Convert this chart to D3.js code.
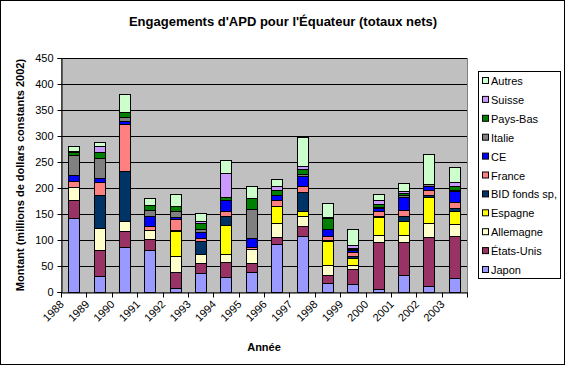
<!DOCTYPE html>
<html>
<head>
<meta charset="utf-8">
<title>Engagements d'APD pour l'Équateur</title>
<script type="text/javascript" src="https://cdn.jsdelivr.net/npm/d3@7/dist/d3.min.js"></script>
<style>
  body { margin: 0; background: #fff; }
  text { font-family: "Liberation Sans", Arial, sans-serif; fill: #000; }
</style>
</head>
<body>
<script type="text/javascript">
// années
var years = ['1988', '1989', '1990', '1991', '1992', '1993', '1994', '1995',
             '1996', '1997', '1998', '1999', '2000', '2001', '2002', '2003'];

// valeurs par donneur (millions de dollars constants 2002)
var japon     = [142, 30, 87, 80, 7, 36, 28, 39, 92, 108, 18, 15, 5, 33, 12, 26];
var etatsUnis = [34, 50, 31, 22, 31, 19, 30, 17, 14, 18, 15, 29, 92, 63, 94, 82];
var allemagne = [25, 44, 19, 17, 32, 19, 16, 26, 27, 21, 19, 8, 13, 14, 27, 22];
var espagne   = [0, 0, 0, 0, 48, 0, 55, 0, 33, 9, 47, 14, 34, 27, 49, 26];
var bid       = [0, 63, 96, 0, 2, 24, 18, 0, 0, 37, 1, 3, 3, 9, 5, 6];
var france    = [12, 24, 90, 8, 20, 5, 8, 5, 10, 11, 8, 7, 8, 12, 10, 11];
var ce        = [12, 9, 6, 19, 5, 13, 22, 16, 11, 20, 14, 4, 6, 24, 6, 22];
var italie    = [38, 37, 7, 12, 10, 6, 0, 56, 0, 2, 0, 2, 3, 4, 5, 2];
var paysBas   = [6, 13, 10, 9, 11, 10, 6, 21, 10, 11, 20, 3, 5, 5, 0, 6];
var suisse    = [3, 10, 0, 0, 0, 5, 46, 0, 6, 6, 3, 6, 7, 3, 0, 8];
var autres    = [9, 8, 35, 13, 22, 14, 24, 24, 15, 55, 27, 31, 12, 15, 57, 29];

var yTicks = [0, 50, 100, 150, 200, 250, 300, 350, 400, 450];

// ordre d'empilement, du bas vers le haut
var series = [
  {name: 'Japon', values: japon, color: '#9999ff'},
  {name: 'États-Unis', values: etatsUnis, color: '#993366'},
  {name: 'Allemagne', values: allemagne, color: '#ffffcc'},
  {name: 'Espagne', values: espagne, color: '#ffff00'},
  {name: 'BID fonds sp,', values: bid, color: '#003366'},
  {name: 'France', values: france, color: '#ff8080'},
  {name: 'CE', values: ce, color: '#0000ff'},
  {name: 'Italie', values: italie, color: '#808080'},
  {name: 'Pays-Bas', values: paysBas, color: '#008000'},
  {name: 'Suisse', values: suisse, color: '#cc99ff'},
  {name: 'Autres', values: autres, color: '#ccffcc'}
];

var W = 565, H = 365;
var plot = {left: 61, right: 467, top: 58, bottom: 292};

var svg = d3.select('body').append('svg')
    .attr('width', W)
    .attr('height', H);

svg.append('rect')
    .attr('x', 0.5).attr('y', 0.5)
    .attr('width', W - 1).attr('height', H - 1)
    .attr('fill', '#fff').attr('stroke', '#000');

var x = d3.scaleBand()
    .domain(years)
    .range([plot.left, plot.right]);

var y = d3.scaleLinear()
    .domain([0, 450])
    .range([plot.bottom, plot.top]);

// zone de tracé
svg.append('rect')
    .attr('x', plot.left + 0.5).attr('y', plot.top + 0.5)
    .attr('width', plot.right - plot.left).attr('height', plot.bottom - plot.top)
    .attr('fill', '#c0c0c0').attr('stroke', '#808080');

// quadrillage
svg.append('g').selectAll('line')
    .data(yTicks.slice(1))
    .enter().append('line')
    .attr('x1', plot.left).attr('x2', plot.right)
    .attr('y1', function(d) { return Math.round(y(d)) + 0.5; })
    .attr('y2', function(d) { return Math.round(y(d)) + 0.5; })
    .attr('stroke', '#000');

// empilement
var table = years.map(function(yr, i) {
  var row = {year: yr};
  series.forEach(function(s) { row[s.name] = s.values[i]; });
  return row;
});
var stack = d3.stack().keys(series.map(function(s) { return s.name; }));
var layers = stack(table);

var barW = 11;
svg.append('g').selectAll('g')
    .data(layers)
    .enter().append('g')
    .attr('fill', function(d, i) { return series[i].color; })
    .selectAll('rect')
    .data(function(d) { return d.filter(function(p) { return p[1] > p[0]; }); })
    .enter().append('rect')
    .attr('x', function(d) { return Math.round(x(d.data.year) + x.bandwidth() / 2 - barW / 2) + 0.5; })
    .attr('width', barW)
    .attr('y', function(d) { return Math.round(y(d[1])) + 0.5; })
    .attr('height', function(d) { return Math.round(y(d[0])) - Math.round(y(d[1])); })
    .attr('stroke', '#000')
    .attr('stroke-width', 1);

// axe Y
var yAxis = d3.axisLeft(y).tickValues(yTicks).tickSize(4).tickPadding(4);
var gy = svg.append('g')
    .attr('transform', 'translate(' + (plot.left + 0.5) + ',0)')
    .call(yAxis);
gy.select('.domain').attr('stroke', '#000');
gy.selectAll('.tick line').attr('stroke', '#000');
gy.selectAll('.tick text').style('font-size', '11px');

// axe X
var xAxis = d3.axisBottom(x).tickSize(0).tickFormat('');
var gx = svg.append('g')
    .attr('transform', 'translate(0,' + (plot.bottom + 0.5) + ')')
    .call(xAxis);
gx.select('.domain').attr('stroke', '#000');
gx.selectAll('line.sep')
    .data(years.concat(['end']))
    .enter().append('line')
    .attr('x1', function(d, i) { return Math.round(plot.left + i * x.step()) + 0.5; })
    .attr('x2', function(d, i) { return Math.round(plot.left + i * x.step()) + 0.5; })
    .attr('y1', 0).attr('y2', 5)
    .attr('stroke', '#000');

svg.append('g').selectAll('text')
    .data(years)
    .enter().append('text')
    .attr('transform', function(d) {
      return 'translate(' + (x(d) + x.bandwidth() / 2 - 9) + ',' + (plot.bottom + 13) + ') rotate(-45)';
    })
    .attr('text-anchor', 'end')
    .style('font-size', '11px')
    .text(function(d) { return d; });

// titres
svg.append('text')
    .attr('x', 283).attr('y', 26)
    .attr('text-anchor', 'middle')
    .style('font-size', '13px').style('font-weight', 'bold')
    .text("Engagements d'APD pour l'Équateur (totaux nets)");

svg.append('text')
    .attr('x', (plot.left + plot.right) / 2).attr('y', 351)
    .attr('text-anchor', 'middle')
    .style('font-size', '11px').style('font-weight', 'bold')
    .text('Année');

svg.append('text')
    .attr('transform', 'translate(24,' + ((plot.top + plot.bottom) / 2) + ') rotate(-90)')
    .attr('text-anchor', 'middle')
    .style('font-size', '11px').style('font-weight', 'bold')
    .text('Montant (millions de dollars constants 2002)');

// légende
var leg = svg.append('g');
leg.append('rect')
    .attr('x', 478.5).attr('y', 71.5)
    .attr('width', 82).attr('height', 207)
    .attr('fill', '#fff').attr('stroke', '#000');

var legItems = leg.selectAll('g.item')
    .data(series.slice().reverse())
    .enter().append('g')
    .attr('class', 'item')
    .attr('transform', function(d, i) { return 'translate(482,' + (81 + i * 18.9) + ')'; });

legItems.append('rect')
    .attr('x', 0.5).attr('y', -3.5)
    .attr('width', 6).attr('height', 6)
    .attr('fill', function(d) { return d.color; })
    .attr('stroke', '#000');

legItems.append('text')
    .attr('x', 9).attr('y', 4)
    .style('font-size', '11px')
    .text(function(d) { return d.name; });
</script>
</body>
</html>
